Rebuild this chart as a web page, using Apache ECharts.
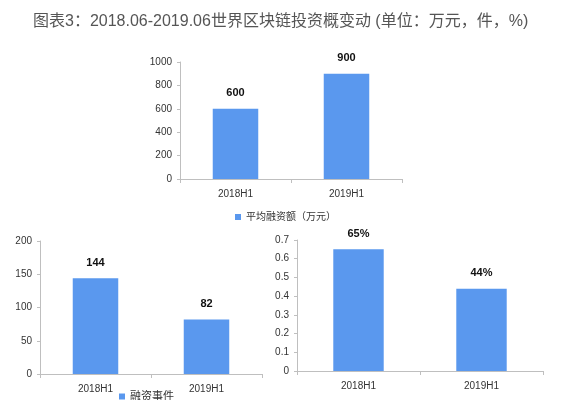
<!DOCTYPE html>
<html><head><meta charset="utf-8">
<script src="https://cdn.jsdelivr.net/npm/echarts@6/dist/echarts.min.js"></script>
<style>html,body{margin:0;padding:0;background:#fff}#c{width:563px;height:400px}</style>
</head><body><div id="c"></div>
<script>
const titleText = '图表3：2018.06-2019.06世界区块链投资概变动 (单位：万元，件，%)';
const categories = ['2018H1', '2019H1'];
const avgName = '平均融资额（万元）';
const avgValues = [600, 900];
const eventName = '融资事件';
const eventValues = [144, 82];
const shareName = '占比';
const shareValues = [0.65, 0.44];
const avgTicks = {min: 0, max: 1000, interval: 200};
const eventTicks = {min: 0, max: 200, interval: 50};
const shareTicks = {min: 0, max: 0.7, interval: 0.1};

const barColor = '#5A98EE';
const axisColor = '#BFBFBF';
const font = 'Arial, "Liberation Sans", "Noto Sans CJK SC", sans-serif';

function xAx(i){return {type:'category', gridIndex:i, data:categories,
  axisLine:{lineStyle:{color:axisColor}}, axisTick:{show:true,length:4,lineStyle:{color:axisColor}},
  axisLabel:{color:'#333', fontSize:10, fontFamily:font, margin:10}};}
function yAx(i,t,fmt){return {type:'value', gridIndex:i, min:t.min, max:t.max, interval:t.interval,
  axisLine:{show:true,lineStyle:{color:axisColor}}, axisTick:{show:true,length:3,lineStyle:{color:axisColor}},
  splitLine:{show:false},
  axisLabel:{color:'#333', fontSize:10, fontFamily:font, margin:8, formatter:fmt}};}
function lbl(fmt){return {show:true, position:'top', distance:10, color:'#111', fontWeight:'bold', fontSize:11, fontFamily:font, formatter:fmt};}

const chart = echarts.init(document.getElementById('c'), null, {renderer:'canvas'});
chart.setOption({
  animation:false,
  backgroundColor:'#fff',
  title:{text:titleText, left:28, top:9, textStyle:{fontSize:16, fontWeight:'normal', color:'#555', fontFamily:font}},
  legend:[
    {data:[avgName], left:230, top:207, itemWidth:6, itemHeight:6, itemGap:4, icon:'rect',
     textStyle:{fontSize:10, color:'#333', fontFamily:font}},
    {data:[eventName], left:114, top:386, itemWidth:6, itemHeight:6, itemGap:2, icon:'rect',
     textStyle:{fontSize:11, color:'#333', fontFamily:font}}
  ],
  grid:[
    {left:180, top:62, width:222, height:117},
    {left:40, top:241, width:222, height:133},
    {left:297, top:240, width:246, height:131}
  ],
  xAxis:[xAx(0), xAx(1), xAx(2)],
  yAxis:[yAx(0,avgTicks, v => String(v)), yAx(1,eventTicks, v => String(v)), yAx(2,shareTicks, v => (Math.round(v*10)/10).toString())],
  series:[
    {name:avgName, type:'bar', xAxisIndex:0, yAxisIndex:0, data:avgValues, barWidth:'41%',
     itemStyle:{color:barColor}, label:lbl('{c}')},
    {name:eventName, type:'bar', xAxisIndex:1, yAxisIndex:1, data:eventValues, barWidth:'41%',
     itemStyle:{color:barColor}, label:lbl('{c}')},
    {name:shareName, type:'bar', xAxisIndex:2, yAxisIndex:2, data:shareValues, barWidth:'41%',
     itemStyle:{color:barColor}, label:lbl(p => Math.round(p.value*100)+'%')}
  ]
});
</script></body></html>
